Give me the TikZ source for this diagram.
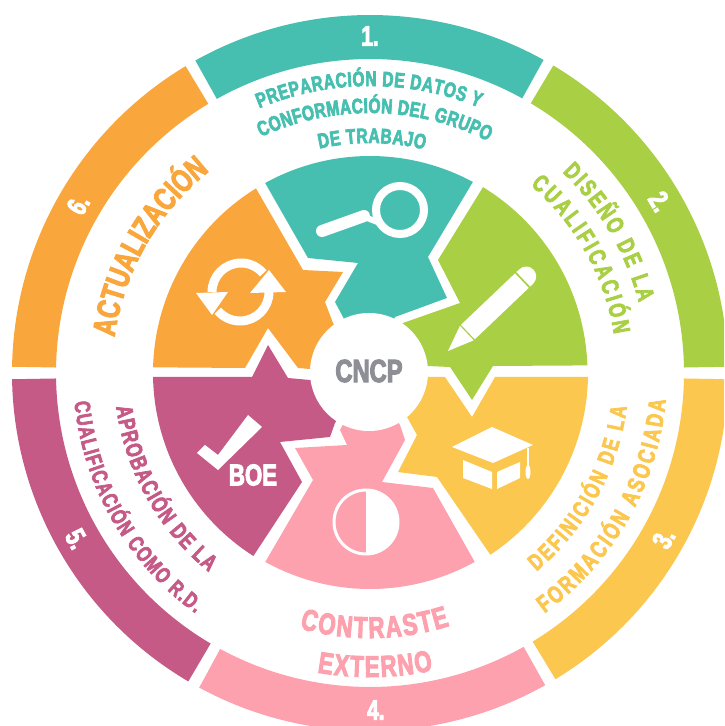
\documentclass[tikz,border=0pt]{standalone}
\usepackage{fontspec}
\usetikzlibrary{decorations.text}
\newfontfamily\imp[FakeStretch=0.74,FakeBold=3.2,UprightFont=* Bold]{Liberation Sans}
\definecolor{cteal}{HTML}{47BFB0}
\definecolor{cgreen}{HTML}{A9CF45}
\definecolor{cyellow}{HTML}{FBC74F}
\definecolor{cpink}{HTML}{FDA1AE}
\definecolor{cpurple}{HTML}{C55A87}
\definecolor{corange}{HTML}{F9A63C}
\definecolor{cgrey}{HTML}{8E8E96}
% radius, from, to, colour, size, text
\newcommand\arctxt[6]{%
  \path[decorate,decoration={text along path,text align=fit to path,
    text={|\imp\fontsize{#5}{#5}\selectfont\color{#4}|#6}}]
    (#2:#1pt) arc[start angle=#2,end angle=#3,radius=#1pt];}
% from, to, colour
\newcommand\ringseg[3]{%
  \fill[#3] (#1:358pt) arc[start angle=#1,end angle=#2,radius=358pt]
    -- (#2:314pt) arc[start angle=#2,end angle=#1,radius=314pt] -- cycle;}
% angle, rotation, text
\newcommand\ringnum[3]{%
  \node[numlabel,rotate=#2] at (#1:337pt) {#3};}
\tikzset{numlabel/.style={text=white,inner sep=0pt,font=\imp\fontsize{28}{28}\selectfont}}
\begin{document}
\begin{tikzpicture}[x=1pt,y=1pt]
\useasboundingbox (0,0) rectangle (724,726);
\clip (0,0) rectangle (724,726);
\coordinate (c) at (370,353);
\begin{scope}[shift={(c)}]
\ringseg{61}{119.2}{cteal}
\ringseg{1}{59.2}{cgreen}
\ringseg{-1}{-58.8}{cyellow}
\ringseg{-60.7}{-118.5}{cpink}
\ringseg{-120.5}{-179}{cpurple}
\ringseg{121}{179}{corange}
\ringnum{90}{0}{1.}
\ringnum{30.6}{-59.4}{2.}
\ringnum{-29.4}{60.6}{3.}
\ringnum{-89}{0}{4.}
\ringnum{-150.5}{-60.5}{5.}
\ringnum{150}{60}{6.}
\arctxt{287}{112.7}{67.7}{cteal}{21}{PREPARACIÓN DE DATOS Y}
\arctxt{260}{114.8}{63}{cteal}{21}{CONFORMACIÓN DEL GRUPO}
\arctxt{230}{102.7}{76.3}{cteal}{21}{DE TRABAJO}
\arctxt{278}{46.2}{14.7}{cgreen}{24}{DISEÑO DE LA}
\arctxt{247}{49.5}{9}{cgreen}{24}{CUALIFICACIÓN}
\arctxt{259}{-50}{-7.5}{cyellow}{23}{DEFINICIÓN DE LA}
\arctxt{297}{-54}{-5.2}{cyellow}{24}{FORMACIÓN ASOCIADA}
\arctxt{265}{-105.4}{-72.5}{cpink}{30}{CONTRASTE}
\arctxt{304}{-100}{-78}{cpink}{30}{EXTERNO}
\arctxt{297}{185.6}{234}{cpurple}{22}{CUALIFICACIÓN COMO R.D.}
\arctxt{256}{187.6}{231}{cpurple}{23}{APROBACIÓN DE LA}
\arctxt{258}{172}{128.5}{corange}{32}{ACTUALIZACIÓN}
\end{scope}
% inner pieces
\fill[cteal] ([shift={(118.9:217pt)}]c) arc[start angle=118.9,end angle=61.7,radius=217pt]
  -- (428,469) -- (447,428) -- (395,409) -- (369,354) -- (343,409) -- (335,424) -- (358,463) -- (308,468) -- cycle;
\fill[cgreen] ([shift={(58.7:217.5pt)}]c) arc[start angle=58.7,end angle=2,radius=217.5pt]
  -- (493,360) -- (472,326) -- (450,359) -- (427,360) -- (369,354) -- (403,403) -- (460,423) -- (438,466) -- cycle;
\fill[cyellow] ([shift={(-1:218pt)}]c) arc[start angle=-1,end angle=-56.5,radius=218pt]
  -- (437,249) -- (398,254) -- (417,291) -- (407,309) -- (369,354) -- (428,349) -- (445,349) -- (472,309) -- (495,349) -- cycle;
\fill[cpink] ([shift={(-61:216pt)}]c) arc[start angle=-61,end angle=-119,radius=216pt]
  -- (313,246) -- (295,278) -- (347,281) -- (340,296) -- (369,354) -- (400,301) -- (405,286) -- (382,244) -- (433,238) -- cycle;
\fill[cpurple] ([shift={(181:217pt)}]c) arc[start angle=181,end angle=237.5,radius=217pt]
  -- (302,244) -- (280,284) -- (330,289) -- (335,303) -- (369,354) -- (310,346) -- (288,348) -- (268,381) -- (252,349) -- cycle;
\fill[corange] ([shift={(121.7:217pt)}]c) arc[start angle=121.7,end angle=178.5,radius=217pt]
  -- (245,358) -- (268,398) -- (298,358) -- (310,357) -- (369,354) -- (333,403) -- (325,424) -- (343,454) -- (303,456) -- cycle;
% centre
\fill[white] (369,354) circle[radius=59pt];
\node[inner sep=0pt,text=cgrey,font=\imp\fontsize{32}{32}\selectfont] (cncp) at (369,355) {CNCP};
% magnifier
\draw[white,line width=8pt] (400,516) circle[radius=24pt];
\draw[white,line width=6pt] (380,503) -- (362,510);
\draw[white,line width=12pt,line cap=round] (322,495) -- (364,510);
% pencil
\begin{scope}[shift={(448,375)},rotate=43.6]
\fill[white] (0,0) -- (26,10) -- (26,-10) -- cycle;
\fill[white] (27.5,10) -- (102,10) -- (102,-10) -- (27.5,-10) -- cycle;
\fill[white] (104,10) -- (108,10) arc[start angle=90,end angle=-90,radius=10pt] -- (104,-10) -- cycle;
\end{scope}
% graduation cap
\fill[white] (452,279) -- (492,299) -- (533,281) -- (493,263) -- cycle;
\fill[white] (463,266) -- (492,254) -- (492,237) -- (463,248) -- cycle;
\fill[white] (497,254) -- (520,264) -- (520,248) -- (497,237) -- cycle;
\draw[white,line width=1.5pt] (528,278) -- (528,252);
\fill[white] (528,254) ellipse[x radius=2.5pt,y radius=7pt];
% half circle
\fill[white] (366,171) arc[start angle=-90,end angle=90,radius=33pt] -- cycle;
\draw[white,line width=3pt] (366,204) circle[radius=32pt];
% check + BOE
\fill[white] (197,273) -- (205,281) -- (218,271) -- (248,311) -- (262,299) -- (218,256) -- cycle;
\node[inner sep=0pt,text=white,font=\imp\fontsize{30}{30}\selectfont] (boe) at (253,251) {BOE};
% refresh
\draw[white,line width=9pt] (212,434) arc[start angle=180,end angle=40,radius=29pt];
\fill[white] (196,433) -- (228,434) -- (212,411) -- cycle;
\draw[white,line width=9pt] (269,434) arc[start angle=0,end angle=-140,radius=29pt];
\fill[white] (250,433) -- (286,434) -- (269,456) -- cycle;
\end{tikzpicture}
\end{document}
